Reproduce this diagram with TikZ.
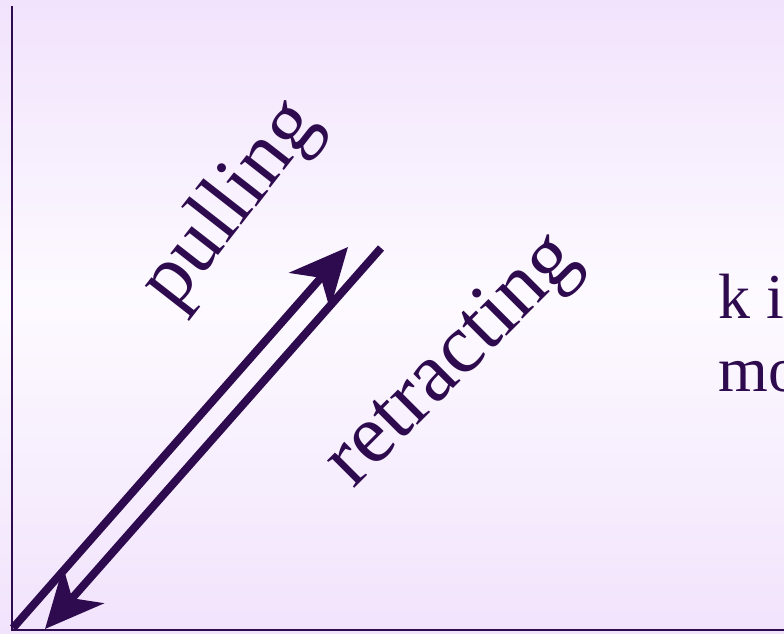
\documentclass[tikz,border=0pt]{standalone}
\usepackage{fontspec}
\setmainfont{Liberation Serif}
\usetikzlibrary{arrows.meta}
\definecolor{ink}{HTML}{2E0A4E}
\definecolor{lilac}{HTML}{F1E3FC}
\definecolor{paleback}{HTML}{FDFAFF}
\tikzset{
  axis/.style={ink, line width=2.5pt},
  motion/.style={ink, line width=8pt, -{Stealth[length=58pt,width=54pt,inset=17pt]}},
  bigword/.style={ink, inner sep=0pt, font=\fontsize{84}{100}\selectfont},
  sideword/.style={ink, inner sep=0pt, anchor=base west, font=\fontsize{64}{72}\selectfont}
}
\begin{document}
\begin{tikzpicture}[x=1pt, y=-1pt]
  \useasboundingbox (0,0) rectangle (784,633);
  % background
  \shade[top color=lilac, bottom color=paleback] (0,0) rectangle (784,300);
  \shade[top color=paleback, bottom color=lilac] (0,300) rectangle (784,633);
  % axes
  \coordinate (top) at (12,6);
  \coordinate (origin) at (12,630);
  \coordinate (right) at (784,630);
  \draw[axis] (top) -- (origin) -- (right);
  % the two motions
  \coordinate (pullfrom) at (13,628);
  \coordinate (pullto) at (348,247);
  \coordinate (backfrom) at (381,248);
  \coordinate (backto) at (45,629);
  \draw[motion] (pullfrom) -- (pullto);
  \draw[motion] (backfrom) -- (backto);
  \node[bigword, rotate=52] (pulling) at (232,205) {pulling};
  \node[bigword, rotate=45] (retracting) at (454,362) {retracting};
  % text at the right edge
  \node[sideword] (kline) at (718,318) {k i};
  \node[sideword] (moline) at (718,391) {mo};
\end{tikzpicture}
\end{document}
